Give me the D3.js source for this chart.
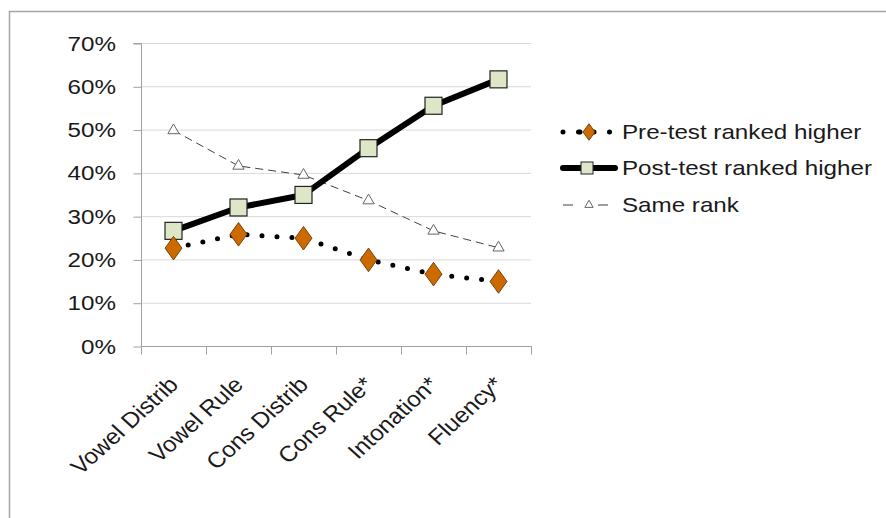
<!DOCTYPE html>
<html><head><meta charset="utf-8">
<script src="https://cdn.jsdelivr.net/npm/d3@7"></script>
<style>body{margin:0;background:#fff}svg{display:block}text{font-family:"Liberation Sans",Arial,sans-serif}</style>
</head><body><svg id="c" width="886" height="518"></svg>
<script>
const categories = ["Vowel Distrib","Vowel Rule","Cons Distrib","Cons Rule*","Intonation*","Fluency*"];
const preTest = [22.6, 25.8, 24.9, 19.9, 16.6, 14.9];
const postTest = [26.6, 32.0, 34.9, 45.7, 55.5, 61.6];
const sameRank = [49.8, 41.6, 39.5, 33.6, 26.6, 22.7];
const seriesNames = ["Pre-test ranked higher","Post-test ranked higher","Same rank"];
const yTicks = [0,10,20,30,40,50,60,70];

const FS = 20.5, SX = 1.18;
const svg = d3.select("#c");
svg.append("path").attr("d","M9.5,530 V11.5 H886").attr("fill","none").attr("stroke","#a6a6a6").attr("stroke-width",1.5);

const x = d3.scaleBand().domain(categories).range([141,531]).padding(0);
const y = d3.scaleLinear().domain([0,70]).range([346,43]);
const cx = d => x(d) + x.bandwidth()/2;

svg.append("g").selectAll("line").data(yTicks.filter(t=>t>0)).join("line")
  .attr("x1",141).attr("x2",531).attr("y1",d=>y(d)+0.5).attr("y2",d=>y(d)+0.5)
  .attr("stroke","#d9d9d9").attr("stroke-width",1);

const ya = svg.append("g").attr("transform","translate(141.5,0.5)")
  .call(d3.axisLeft(y).tickValues(yTicks).tickFormat(d=>d+"%").tickSize(8).tickPadding(16));
ya.select(".domain").attr("stroke","#a0a0a0").attr("d","M-8,"+(y(70))+"H0V"+y(0));
ya.selectAll(".tick line").attr("stroke","#a0a0a0");
ya.selectAll(".tick text").attr("x",0).attr("transform",`translate(-25.5,0) scale(${SX},1)`)
  .attr("font-size",FS).attr("fill","#1a1a1a").attr("font-family","Liberation Sans, Arial, sans-serif");

const xa = svg.append("g").attr("transform","translate(0.5,346.5)")
  .call(d3.axisBottom(x).tickSize(0).tickFormat(""));
xa.select(".domain").attr("stroke","#a0a0a0").attr("d","M141,0H531");
const edges = categories.map(c=>x(c)).concat([x(categories[categories.length-1])+x.bandwidth()]);
xa.append("g").selectAll("line").data(edges).join("line")
  .attr("x1",d=>d).attr("x2",d=>d).attr("y1",0).attr("y2",8).attr("stroke","#a0a0a0");
svg.append("g").selectAll("text").data(categories).join("text")
  .attr("transform",d=>`translate(${cx(d)+6},${386}) scale(1.1,1) rotate(-45)`)
  .attr("text-anchor","end").attr("font-size",22).attr("fill","#1a1a1a").text(d=>d);

const line = d3.line().x((d,i)=>cx(categories[i])).y(d=>y(d));

svg.append("path").datum(sameRank).attr("d",line).attr("fill","none")
  .attr("stroke","#404040").attr("stroke-width",1).attr("stroke-dasharray","8,5");
const tri = d3.symbol().type(d3.symbolTriangle).size(55);
svg.append("g").selectAll("path").data(sameRank).join("path")
  .attr("d",tri).attr("transform",(d,i)=>`translate(${cx(categories[i])},${y(d)})`)
  .attr("fill","#fff").attr("stroke","#666").attr("stroke-width",1);

svg.append("path").datum(postTest).attr("d",line).attr("fill","none")
  .attr("stroke","#000").attr("stroke-width",6).attr("stroke-linejoin","round");
svg.append("g").selectAll("rect").data(postTest).join("rect")
  .attr("x",(d,i)=>cx(categories[i])-8.5).attr("y",d=>y(d)-8.5).attr("width",17).attr("height",17)
  .attr("fill","#dde7c7").attr("stroke","#222").attr("stroke-width",1.2);

svg.append("path").datum(preTest).attr("d",line).attr("fill","none")
  .attr("stroke","#000").attr("stroke-width",5).attr("stroke-linecap","round").attr("stroke-dasharray","0,15");
const dia = d3.symbol().type(d3.symbolDiamond).size(160);
svg.append("g").selectAll("path").data(preTest).join("path")
  .attr("d",dia).attr("transform",(d,i)=>`translate(${cx(categories[i])},${y(d)}) scale(1.25,1)`)
  .attr("fill","#cc6a00").attr("stroke","#6b3a00").attr("stroke-width",0.8);

const lg = svg.append("g");
const rows = [132,168,205];
lg.append("line").attr("x1",563).attr("x2",610).attr("y1",rows[0]).attr("y2",rows[0])
  .attr("stroke","#000").attr("stroke-width",5).attr("stroke-linecap","round").attr("stroke-dasharray","0,15.5");
lg.append("circle").attr("cx",580).attr("cy",rows[0]).attr("r",2.5).attr("fill","#000");
lg.append("path").attr("d",d3.symbol().type(d3.symbolDiamond).size(80)()).attr("transform",`translate(589,${rows[0]}) scale(1.25,1)`)
  .attr("fill","#cc6a00").attr("stroke","#6b3a00").attr("stroke-width",0.8);
lg.append("line").attr("x1",563).attr("x2",615).attr("y1",rows[1]).attr("y2",rows[1])
  .attr("stroke","#000").attr("stroke-width",6).attr("stroke-linecap","round");
lg.append("rect").attr("x",581).attr("y",rows[1]-6).attr("width",12).attr("height",12)
  .attr("fill","#dde7c7").attr("stroke","#222");
lg.append("line").attr("x1",563).attr("x2",608).attr("y1",rows[2]).attr("y2",rows[2])
  .attr("stroke","#404040").attr("stroke-width",1).attr("stroke-dasharray","10,25");
lg.append("path").attr("d",d3.symbol().type(d3.symbolTriangle).size(30)()).attr("transform",`translate(589,${rows[2]})`)
  .attr("fill","#fff").attr("stroke","#666");
lg.selectAll("text").data(seriesNames).join("text")
  .attr("transform",(d,i)=>`translate(622,${rows[i]+7}) scale(${SX},1)`)
  .attr("font-size",FS).attr("fill","#1a1a1a").text(d=>d);
</script></body></html>
